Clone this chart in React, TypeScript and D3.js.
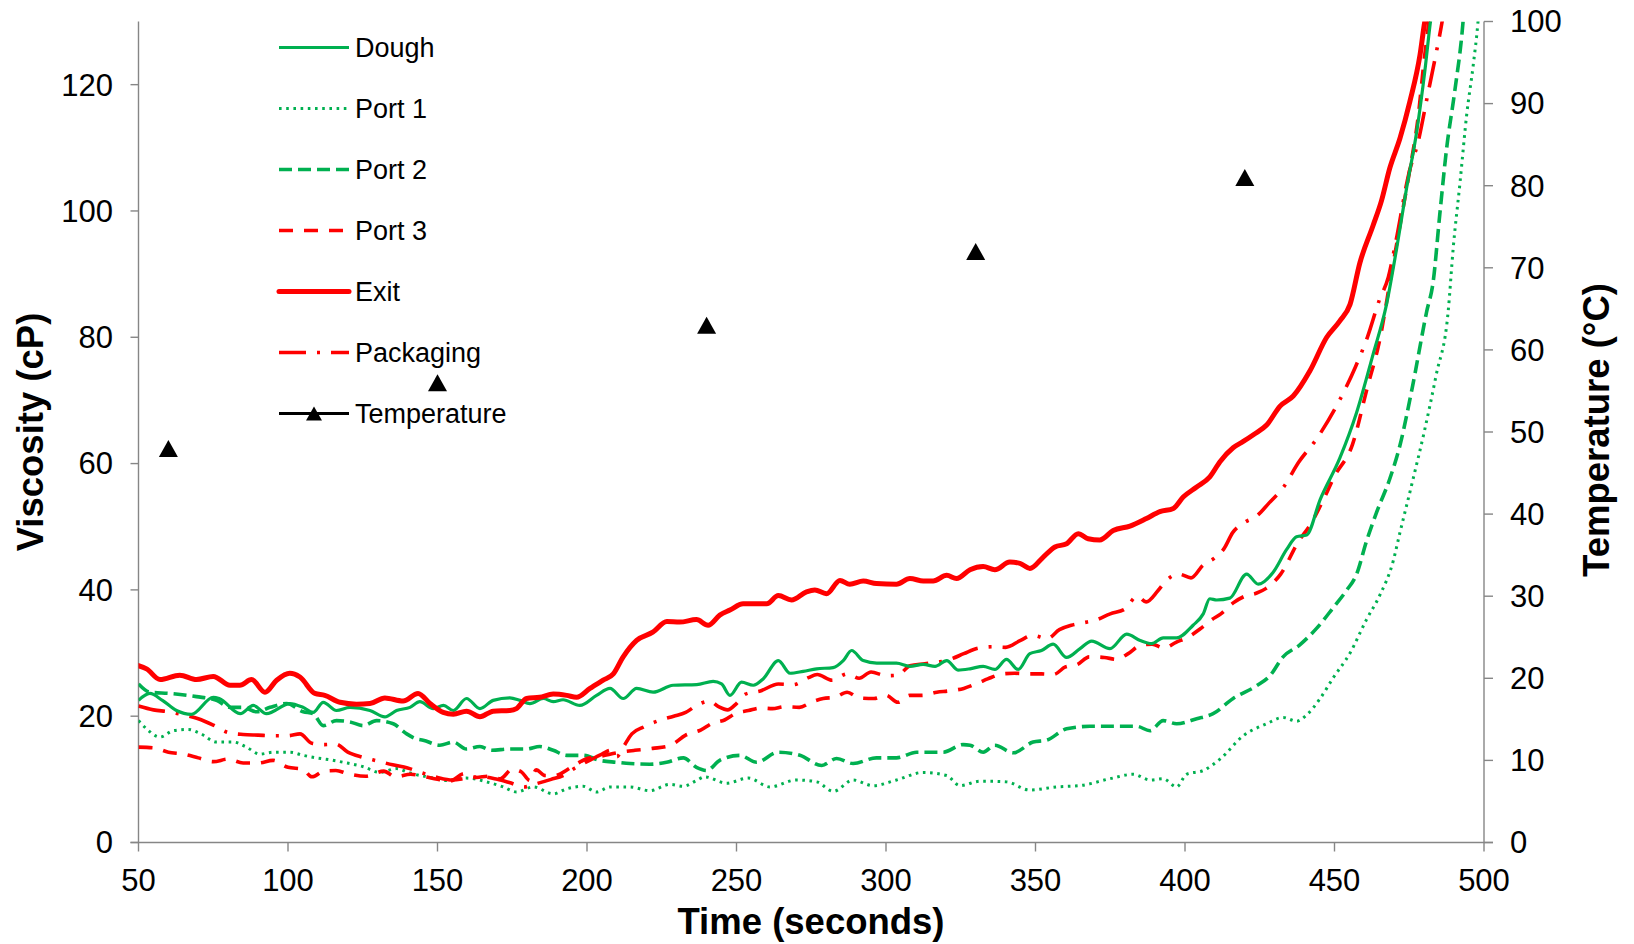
import React from 'react';
import * as d3 from 'd3';

type P = [number, number];

const W = 1634;
const H = 944;
const PLOT = { left: 138.5, right: 1484, top: 21.5, bottom: 842.5 };

const xTicks = [50, 100, 150, 200, 250, 300, 350, 400, 450, 500];
const yLeftTicks = [0, 20, 40, 60, 80, 100, 120];
const yRightTicks = [0, 10, 20, 30, 40, 50, 60, 70, 80, 90, 100];

const dough: P[] = [[50,22.5],[53.8,23.6],[58,22.5],[62.7,20.9],[67.7,20.3],[75,23.0],[77,22.8],[84,20.4],[88.4,21.7],[92.8,20.4],[100.6,22.0],[105,21.4],[108.4,20.6],[111.8,22.2],[116.2,20.9],[120.7,21.4],[127.4,20.9],[132.4,19.9],[136.3,20.9],[140.8,21.4],[144.1,22.3],[148.6,21.2],[152,21.7],[155.3,20.9],[159.7,22.8],[164.2,21.2],[168.6,22.5],[174.2,22.9],[177.6,22.5],[180.9,22.0],[185.4,22.8],[188.7,22.3],[192,22.6],[197.6,21.7],[203.2,23.3],[207.7,24.4],[212.1,22.8],[216.6,24.4],[222.1,23.8],[228.8,24.9],[236.7,25.0],[242.2,25.5],[245,25.1],[247.8,23.3],[251.7,25.4],[255.6,24.9],[258.9,25.9],[264,28.8],[267.9,26.8],[272.3,27.1],[276.8,27.5],[282.3,27.7],[285.7,28.8],[288.5,30.4],[292.4,28.8],[296.9,28.4],[303.5,28.4],[308,27.9],[312.4,28.2],[316.4,27.9],[320.3,28.8],[324.1,27.3],[328.1,27.5],[332.5,27.9],[336.4,27.4],[340.3,29.0],[344.2,27.4],[348.1,29.9],[352,30.4],[355.9,31.4],[360.4,29.3],[364.9,30.7],[368.8,31.9],[374.9,30.7],[380.5,33.0],[385,32.0],[388.8,31.5],[392.7,32.4],[397.2,32.4],[402.7,34.4],[406.1,36.2],[408.3,38.6],[410.6,38.4],[415,38.7],[420.6,42.5],[424.5,40.9],[429.5,42.8],[434,46.4],[437.3,48.4],[440.7,48.7],[445.2,54.3],[451.8,60.9],[457.4,68.1],[462.9,77.3],[467.4,85.2],[470.8,94.1],[474.1,103.6],[477.5,112.6],[480.2,122.1],[482.1,130],[483,133]];

const port1: P[] = [[50,19.3],[52.7,18.0],[57.2,16.7],[61.6,17.7],[66.6,17.9],[70.5,17.3],[76.1,15.9],[81.7,15.9],[86.1,15.1],[90.6,14.0],[95.1,14.3],[100.6,14.3],[105.1,13.8],[109.5,13.4],[114,13.1],[118.5,12.7],[125.2,12.0],[130.7,11.1],[136.3,11.7],[140.8,11.0],[147.5,10.3],[153,9.8],[159.7,10.2],[166.4,9.6],[172,8.8],[176.4,8.0],[182,8.8],[188.7,7.7],[193.2,8.5],[198.7,8.9],[203.2,8.0],[207.7,8.8],[214.3,8.8],[221,8.2],[227.7,9.2],[232.2,8.9],[236.6,9.8],[239.4,10.4],[246.7,9.4],[253.9,10.2],[261.2,8.8],[270.1,9.9],[276.8,9.6],[282.4,8.1],[289,9.9],[295.7,9.0],[303.5,9.9],[312.5,11.1],[320.3,10.6],[324.7,9.0],[331.4,9.7],[334.7,9.7],[340.3,9.6],[348.1,8.3],[357,8.8],[364.8,9.0],[374.9,10.1],[382.7,10.8],[388.3,9.9],[392.7,10.1],[397.2,8.8],[400.5,10.8],[406.1,11.4],[411.7,13.2],[419.5,16.9],[427.3,18.8],[432.8,19.8],[437.3,19.2],[440.7,20.2],[445.2,22.8],[449.6,26.1],[455.2,30.0],[460.7,35.3],[465.2,39.2],[469.6,44.5],[471.9,49.1],[476,57],[480,65],[484,74],[488,84],[489.7,94.1],[492,104.6],[494.2,115.2],[496.4,123.1],[498,130],[498.5,133]];

const port2: P[] = [[50,25.1],[53.8,23.8],[60.5,23.6],[69.4,23.1],[76.1,22.5],[80.6,21.4],[85,21.4],[89.5,20.7],[94,21.4],[99.5,22.0],[105.1,20.7],[108.4,20.4],[111.8,18.5],[116.2,19.3],[120.7,19.1],[125.2,18.5],[129.6,19.3],[135.2,18.8],[139.7,17.2],[143,16.4],[145.2,16.2],[150.8,15.4],[155.3,15.9],[159.7,14.8],[164.2,15.2],[168.1,14.6],[174.2,14.8],[179.8,14.8],[184.2,15.2],[188.7,14.6],[193.2,13.8],[198.7,13.8],[204.3,13.0],[209.9,12.7],[214.4,12.5],[221,12.4],[226.6,12.7],[232.2,13.4],[236.6,11.9],[240,11.4],[244.4,13.0],[251.1,13.8],[256.7,12.7],[264,14.3],[271.2,13.8],[278.5,12.2],[283.5,13.3],[289,12.5],[296.8,13.4],[303.5,13.4],[310.2,14.3],[319.1,14.3],[325.8,15.5],[328.1,15.4],[332.5,14.3],[336.4,15.4],[342.6,14.2],[349.2,15.9],[353.7,16.2],[360.4,18.0],[368.2,18.4],[378.2,18.4],[383.8,18.4],[388.3,17.7],[392.7,19.3],[397.2,18.8],[403.9,19.6],[409.4,20.4],[416.1,22.8],[423.9,24.8],[428.4,26.4],[432.8,29.4],[438.4,31.3],[444,33.9],[449.6,37.2],[454,39.9],[457.4,42.5],[460.7,47.7],[464.1,52.3],[468.5,57.6],[471.9,62.9],[476,72],[480.8,84.0],[483,88.8],[485.2,99.4],[487.5,109.9],[490.2,118.9],[493,130],[493.5,133]];

const port3: P[] = [[50,15.1],[55,15.0],[60,14.3],[65,14.0],[70,13.4],[75,12.8],[80,13.2],[85,12.6],[90,12.6],[95,13.0],[100,11.9],[105,11.6],[108,10.4],[112,11.3],[116,11.4],[120,10.9],[126,10.5],[132,11.3],[136,10.4],[141,10.8],[145,10.5],[150,10.0],[154,9.7],[159,10.9],[163,10.3],[167,10.5],[171,10.1],[175,11.6],[178,11.2],[181,9.8],[183,11.5],[186,10.6],[189,10.6],[195,12.0],[200,13.3],[205,13.7],[210,14.2],[216,14.6],[222,14.9],[228,15.4],[233,17.0],[238,17.8],[242,18.9],[246,19.4],[250,20.5],[254,20.9],[258,21.3],[262,21.2],[266,21.5],[271,21.4],[275,22.2],[279,22.8],[283,23.0],[287,23.8],[291,22.9],[296,22.8],[300,23.3],[304,22.2],[308,23.3],[312,23.3],[317,23.8],[321,24.0],[326,24.4],[331,25.3],[334,25.9],[339,26.7],[343,26.8],[348,26.7],[352,26.7],[356,26.6],[360,27.8],[364,28.2],[368,29.4],[373,29.3],[377,29.0],[381,29.9],[385,31.2],[389,31.4],[393,30.8],[397,31.7],[401,32.5],[405,33.8],[409,35.3],[412,36.2],[416,37.9],[420,39.0],[424,39.5],[427,40.2],[432,42.5],[438,47.7],[442,50.4],[446,54.0],[450,58.0],[456,63.0],[461,72.1],[465,79.3],[469,90.0],[472,98.0],[475,106],[478,115],[480,124],[481.5,130],[482,133]];

const exitLine: P[] = [[50,28.0],[52.7,27.5],[57.2,25.8],[63.8,26.5],[69.4,25.8],[75,26.3],[80.6,24.9],[83.9,24.9],[87.8,25.8],[92.3,23.8],[96.2,25.7],[100.6,26.8],[104,26.2],[109,23.6],[112.3,23.3],[117.4,22.2],[122.9,21.9],[127.4,22.0],[132.4,22.9],[138.5,22.4],[143.5,23.6],[147.5,22.0],[151.9,20.6],[155.3,20.3],[159.7,20.8],[164.2,19.9],[168.6,20.8],[174.2,20.9],[176.4,21.2],[179.8,22.8],[184.2,23.0],[188.7,23.5],[193.2,23.3],[196.5,23.0],[201,24.4],[205.4,25.7],[208.8,26.7],[212.1,29.4],[216.6,32.0],[222,33.3],[226.7,35.0],[231,34.9],[236.6,35.3],[240.5,34.4],[244.4,36.0],[247.8,36.8],[252.2,37.8],[260.1,37.8],[264,39.1],[268.4,38.4],[273.4,39.7],[276.2,40.0],[280.1,39.4],[284.6,41.5],[287.9,40.9],[292.4,41.4],[296.8,41.0],[303.5,40.9],[308,41.8],[312.5,41.4],[315.8,41.4],[320.3,42.3],[323.6,41.8],[328.1,43.2],[332.5,43.7],[336.4,43.2],[341.4,44.4],[344.8,44.2],[348.1,43.4],[352.6,45.2],[356.5,46.8],[360.4,47.3],[364.3,48.9],[367.6,48.1],[371.5,47.9],[376,49.4],[381.6,50.1],[387.1,51.3],[391.6,52.4],[396.1,52.9],[399.4,54.7],[403.9,56.3],[408.3,57.9],[411.7,60.3],[416.1,62.5],[419.5,63.5],[423,64.6],[427.3,66.1],[431.8,69.1],[436.2,70.7],[441.8,74.7],[447.4,80.0],[451.8,82.6],[455.2,85.2],[458.5,91.8],[462.9,97.7],[465.7,101.6],[468.5,106.8],[471.9,111.5],[475.2,117.3],[478.6,124.7],[480.2,130],[481,132]];

const packaging: P[] = [[50,21.6],[55,21.0],[60,20.7],[65,20.2],[70,19.6],[75,18.6],[80,17.4],[85,17.1],[90,17.0],[95,16.9],[100,16.9],[104,17.2],[108,15.7],[112,15.5],[116,15.6],[120,14.3],[125,13.5],[130,12.9],[135,12.3],[140,11.8],[145,11.0],[150,10.3],[155,9.9],[160,10.2],[165,10.4],[170,10.0],[174,9.5],[179,8.8],[183,9.3],[188,10.0],[192,10.6],[196,11.8],[200,12.8],[205,14.0],[208,14.6],[210,13.6],[212,15.0],[215,17.2],[219,18.3],[224,19.3],[229,20.0],[233,20.6],[237,21.8],[241,22.4],[244,21.5],[247,21.0],[250,22.0],[253,23.5],[258,24.0],[264,25.1],[269,25.0],[274,26.1],[277,26.6],[282,25.7],[287,26.7],[291,26.0],[295,27.0],[300,26.4],[304,26.5],[308,28.0],[313,28.3],[318,28.6],[322,29.1],[326,29.9],[331,30.8],[336,31.0],[340,30.9],[345,32.0],[349,32.8],[354,32.3],[358,33.7],[362,34.4],[366,34.8],[370,35.2],[375,36.2],[380,37.0],[384,39.0],[387,38.1],[391,39.9],[394,41.6],[398,42.5],[402,41.9],[406,43.9],[410,45.1],[413,46.5],[416,49.1],[420,50.7],[424,51.7],[428,53.7],[433,56.3],[438,60.2],[444,63.9],[451,69.4],[457,75.3],[461,80.0],[465,85.9],[468,89.5],[470.5,95.1],[475,106.2],[478,111],[481,118],[484,125],[486,130],[487,133]];

const tempTime = [60, 150, 240, 330, 420];
const tempValue = [48, 56, 63, 72, 81];

const GREEN = '#00B050';
const RED = '#FF0000';
const AXIS = '#868686';
const FONT = '"Liberation Sans", Arial, Helvetica, sans-serif';

const series = [
  { name: 'Dough', data: dough, color: GREEN, width: 3.2, dash: undefined as string | undefined, cap: 'butt' },
  { name: 'Port 1', data: port1, color: GREEN, width: 3, dash: '2.6 4.6', cap: 'butt' },
  { name: 'Port 2', data: port2, color: GREEN, width: 3.6, dash: '13 6', cap: 'butt' },
  { name: 'Port 3', data: port3, color: RED, width: 3.6, dash: '14 11', cap: 'butt' },
  { name: 'Exit', data: exitLine, color: RED, width: 5, dash: undefined as string | undefined, cap: 'round' },
  { name: 'Packaging', data: packaging, color: RED, width: 3.6, dash: '27 11 3 11', cap: 'butt' },
];

export default function App() {
  const x = d3.scaleLinear().domain([50, 500]).range([PLOT.left, PLOT.right]);
  const y = d3.scaleLinear().domain([0, 130]).range([PLOT.bottom, PLOT.top]);
  const y2 = d3.scaleLinear().domain([0, 100]).range([PLOT.bottom, PLOT.top]);
  const line = d3
    .line<P>()
    .x((d) => x(d[0]))
    .y((d) => y(d[1]))
    .curve(d3.curveMonotoneX);

  const tri = (cx: number, cy: number, w = 19, h = 17) =>
    `M${cx},${cy - h / 2}L${cx + w / 2},${cy + h / 2}L${cx - w / 2},${cy + h / 2}Z`;

  const legendX0 = 279;
  const legendX1 = 349;
  const legendTextX = 355;
  const legendY0 = 47.5;
  const legendStep = 61;

  const drawOrder = [1, 2, 5, 3, 0, 4];

  return (
    <div style={{ position: 'absolute', left: 0, top: 0, width: W, height: H, background: '#fff' }}>
      <svg width={W} height={H} viewBox={`0 0 ${W} ${H}`} style={{ display: 'block', fontFamily: FONT }}>
        <defs>
          <clipPath id="plotClip">
            <rect x={PLOT.left} y={PLOT.top} width={PLOT.right - PLOT.left} height={PLOT.bottom - PLOT.top} />
          </clipPath>
        </defs>
        <rect x={0} y={0} width={W} height={H} fill="#fff" />

        {/* axes */}
        <g stroke={AXIS} strokeWidth={1.4} fill="none">
          <line x1={PLOT.left} x2={PLOT.left} y1={PLOT.top} y2={PLOT.bottom} />
          <line x1={PLOT.right} x2={PLOT.right} y1={PLOT.top} y2={PLOT.bottom} />
          <line x1={PLOT.left - 8} x2={PLOT.right + 9} y1={PLOT.bottom} y2={PLOT.bottom} />
          {xTicks.map((t) => (
            <line key={'xt' + t} x1={x(t)} x2={x(t)} y1={PLOT.bottom} y2={PLOT.bottom + 9} />
          ))}
          {yLeftTicks.map((t) => (
            <line key={'yl' + t} x1={PLOT.left - 8} x2={PLOT.left} y1={y(t)} y2={y(t)} />
          ))}
          {yRightTicks.map((t) => (
            <line key={'yr' + t} x1={PLOT.right} x2={PLOT.right + 9} y1={y2(t)} y2={y2(t)} />
          ))}
        </g>

        {/* tick labels */}
        <g fontSize={31} fill="#000">
          {xTicks.map((t) => (
            <text key={'xl' + t} x={x(t)} y={891} textAnchor="middle">
              {t}
            </text>
          ))}
          {yLeftTicks.map((t) => (
            <text key={'yll' + t} x={113} y={y(t)} dy="0.35em" textAnchor="end">
              {t}
            </text>
          ))}
          {yRightTicks.map((t) => (
            <text key={'yrl' + t} x={1510} y={y2(t)} dy="0.35em" textAnchor="start">
              {t}
            </text>
          ))}
        </g>

        {/* axis titles */}
        <text x={811} y={934} textAnchor="middle" fontSize={36.5} fontWeight="bold">
          Time (seconds)
        </text>
        <text transform="translate(43,432) rotate(-90)" textAnchor="middle" fontSize={36.5} fontWeight="bold">
          Viscosity (cP)
        </text>
        <text transform="translate(1609,430) rotate(-90)" textAnchor="middle" fontSize={36.5} fontWeight="bold">
          Temperature (°C)
        </text>

        {/* series */}
        <g clipPath="url(#plotClip)">
          {drawOrder.map((i) => {
            const s = series[i];
            return (
              <path
                key={s.name}
                d={line(s.data) || ''}
                fill="none"
                stroke={s.color}
                strokeWidth={s.width}
                strokeDasharray={s.dash}
                strokeLinecap={s.cap as any}
                strokeLinejoin="round"
              />
            );
          })}
          {tempTime.map((t, i) => (
            <path key={'tp' + t} d={tri(x(t), y2(tempValue[i]))} fill="#000" />
          ))}
        </g>

        {/* legend */}
        <g>
          {series.map((s, i) => {
            const ly = legendY0 + i * legendStep;
            return (
              <g key={'lg' + s.name}>
                <line
                  x1={legendX0}
                  x2={legendX1}
                  y1={ly}
                  y2={ly}
                  stroke={s.color}
                  strokeWidth={s.width}
                  strokeDasharray={s.dash}
                  strokeLinecap={s.cap as any}
                />
                <text x={legendTextX} y={ly} dy="0.35em" fontSize={27} fill="#000">
                  {s.name}
                </text>
              </g>
            );
          })}
          {(() => {
            const ly = legendY0 + series.length * legendStep;
            return (
              <g>
                <line x1={legendX0} x2={legendX1} y1={ly} y2={ly} stroke="#000" strokeWidth={3} />
                <path d={tri((legendX0 + legendX1) / 2, ly, 16, 14)} fill="#000" />
                <text x={legendTextX} y={ly} dy="0.35em" fontSize={27} fill="#000">
                  Temperature
                </text>
              </g>
            );
          })()}
        </g>
      </svg>
    </div>
  );
}
